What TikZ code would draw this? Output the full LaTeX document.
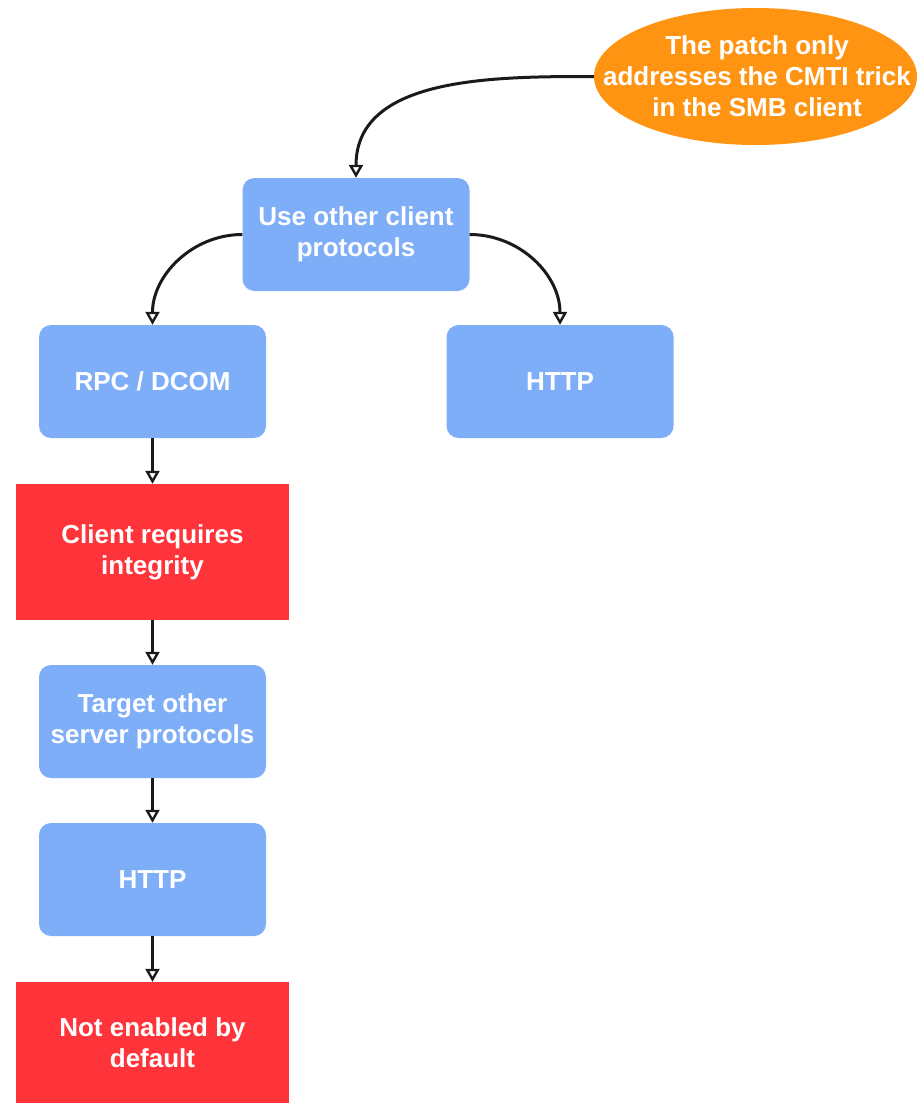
\documentclass[tikz,border=0pt]{standalone}
\usepackage{fontspec}
\setmainfont{Liberation Sans}
\usetikzlibrary{arrows.meta,shapes.geometric}
\definecolor{boxblue}{HTML}{7FAEF8}
\definecolor{boxred}{HTML}{FF333A}
\definecolor{notecolor}{HTML}{FF9412}
\definecolor{linecol}{HTML}{1A1A1A}
\tikzset{
  lbl/.style={font=\fontsize{26}{31}\selectfont\bfseries, text=white, align=center, inner sep=0pt},
  bluebox/.style={lbl, fill=boxblue, rounded corners=12pt, minimum width=227pt, minimum height=113pt},
  redbox/.style={lbl, fill=boxred, minimum width=273pt},
  note/.style={fill=notecolor, ellipse, inner sep=0pt, minimum width=323pt, minimum height=137pt},
  link/.style={draw=linecol, line width=3pt, -{Triangle[open, length=13pt, width=14pt, line width=2.4pt]}},
}
\begin{document}
\begin{tikzpicture}[x=1pt, y=-1pt]
\useasboundingbox (0,0) rectangle (917,1103);
% orange note: the ellipse and its text are laid separately so the shape keeps its size
\node[note] (patch) at (755.5,76.5) {};
\node[lbl] (patchtext) at (757,76.5) {The patch only\\addresses the CMTI trick\\in the SMB client};
\node[bluebox] (use) at (356,234.5) {Use other client\\protocols};
\node[bluebox] (rpc) at (152.5,381.5) {RPC / DCOM};
\node[bluebox] (http1) at (560,381.5) {HTTP};
\node[redbox, minimum height=136pt] (integ) at (152.5,552) {Client requires\\integrity};
\node[bluebox] (target) at (152.5,721.5) {Target other\\server protocols};
\node[bluebox] (http2) at (152.5,879.5) {HTTP};
\node[redbox, minimum height=122pt] (notdef) at (152.5,1043) {Not enabled by\\default};

\draw[link] (patch.west) to[out=180, in=90] (use.north);
\draw[link] (use.west) to[out=180, in=90] (rpc.north);
\draw[link] (use.east) to[out=0, in=90] (http1.north);
\draw[link] (rpc.south) -- (integ.north);
\draw[link] (integ.south) -- (target.north);
\draw[link] (target.south) -- (http2.north);
\draw[link] (http2.south) -- (notdef.north);
\end{tikzpicture}
\end{document}
